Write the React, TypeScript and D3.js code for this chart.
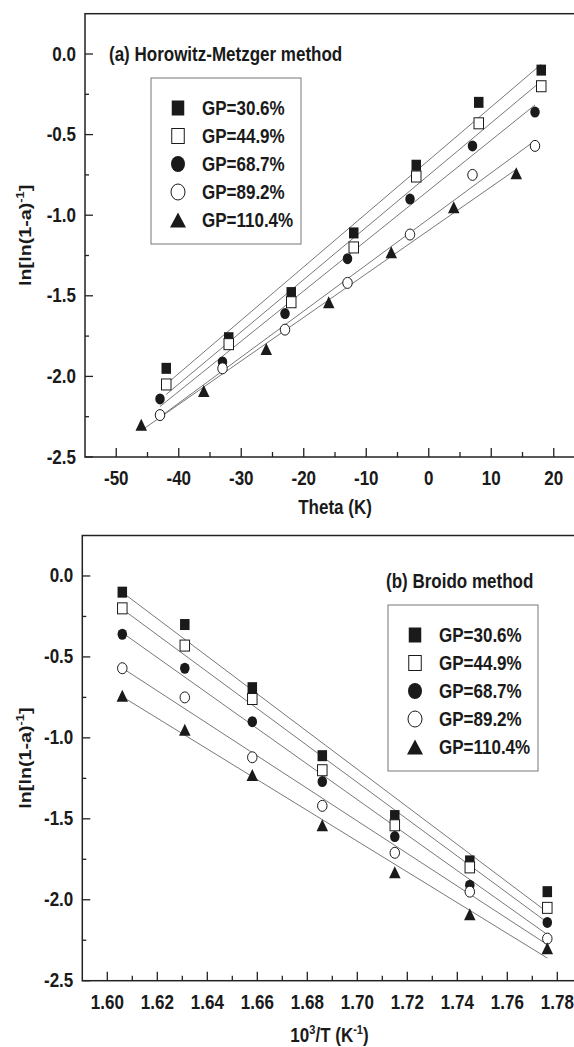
import React from "react";
import * as d3 from "d3";

// legend entries and symbol kinds, same order in both panels
const seriesNames = ["GP=30.6%", "GP=44.9%", "GP=68.7%", "GP=89.2%", "GP=110.4%"];
const seriesShapes = ["squareFilled", "squareOpen", "circleFilled", "circleOpen", "triangleFilled"];

// panel (a): Theta (K) of each point
const thetaGP306 = [-42, -32, -22, -12, -2, 8, 18];
const thetaGP449 = [-42, -32, -22, -12, -2, 8, 18];
const thetaGP687 = [-43, -33, -23, -13, -3, 7, 17];
const thetaGP892 = [-43, -33, -23, -13, -3, 7, 17];
const thetaGP1104 = [-46, -36, -26, -16, -6, 4, 14];

// ln[ln(1-a)^-1], same values in both panels
const lnGP306 = [-1.95, -1.76, -1.48, -1.11, -0.69, -0.3, -0.1];
const lnGP449 = [-2.05, -1.8, -1.54, -1.2, -0.76, -0.43, -0.2];
const lnGP687 = [-2.14, -1.91, -1.61, -1.27, -0.9, -0.57, -0.36];
const lnGP892 = [-2.24, -1.95, -1.71, -1.42, -1.12, -0.75, -0.57];
const lnGP1104 = [-2.3, -2.09, -1.83, -1.54, -1.23, -0.95, -0.74];

// panel (b): 10^3/T, in the same point order
const invT = [1.776, 1.745, 1.715, 1.686, 1.658, 1.631, 1.606];

const thetaTicks = [-50, -40, -30, -20, -10, 0, 10, 20];
const thetaMinor = [-45, -35, -25, -15, -5, 5, 15, 25];
const invTTicks = [1.6, 1.62, 1.64, 1.66, 1.68, 1.7, 1.72, 1.74, 1.76, 1.78];
const invTMinor = [1.61, 1.63, 1.65, 1.67, 1.69, 1.71, 1.73, 1.75, 1.77, 1.79];
const yTicks = [0, -0.5, -1, -1.5, -2, -2.5];
const yMinor = [-0.25, -0.75, -1.25, -1.75, -2.25];

const lnAll = [lnGP306, lnGP449, lnGP687, lnGP892, lnGP1104];
const thetaAll = [thetaGP306, thetaGP449, thetaGP687, thetaGP892, thetaGP1104];

const FONT = "'Liberation Sans', Arial, Helvetica, sans-serif";
const INK = "#1a1a1a";
const SY = 1.16; // the scan is a bit taller than wide

function Label({ x, y, anchor = "middle", size = 17, rotate = false, children }: any) {
  const t = rotate
    ? `translate(${x},${y}) rotate(-90) scale(${SY},1)`
    : `translate(${x},${y}) scale(1,${SY})`;
  return (
    <text transform={t} textAnchor={anchor} fontFamily={FONT} fontWeight="bold" fontSize={size} fill={INK}>
      {children}
    </text>
  );
}

function Marker({ shape, cx, cy, w, h }: any) {
  const open = shape.endsWith("Open");
  const fill = open ? "#fff" : INK;
  const sw = open ? 1 : 0;
  if (shape.startsWith("square"))
    return <rect x={cx - w / 2} y={cy - h / 2} width={w} height={h} fill={fill} stroke={INK} strokeWidth={sw} />;
  if (shape.startsWith("circle"))
    return <ellipse cx={cx} cy={cy} rx={w / 2} ry={h / 2} fill={fill} stroke={INK} strokeWidth={sw} />;
  return (
    <path d={`M${cx},${cy - h / 2}L${cx + w / 2},${cy + h / 2}L${cx - w / 2},${cy + h / 2}Z`} fill={fill} />
  );
}

function fit(xs: number[], ys: number[]) {
  const mx = d3.mean(xs)!, my = d3.mean(ys)!;
  const sxy = d3.sum(xs, (v, i) => (v - mx) * (ys[i] - my));
  const sxx = d3.sum(xs, (v) => (v - mx) ** 2);
  const b = sxy / sxx;
  return (v: number) => my + b * (v - mx);
}

const yLabel = (
  <>
    ln[ln(1-a)
    <tspan dy={-7} fontSize={11}>-1</tspan>
    <tspan dy={7}>]</tspan>
  </>
);

function Panel({ x, y, xs, xTicks, xMinor, xFmt, title, titleX, titleY, legX, legY, xTitle, xTitleX, xTitleY }: any) {
  const [x0] = x.range();
  const [y0, y1] = y.range();
  const xEnd = x.range()[1];
  return (
    <g>
      <rect x={x0} y={y1} width={xEnd - x0} height={y0 - y1} fill="none" stroke="#222" strokeWidth={1.5} />
      {xTicks.map((t: number) => (
        <g key={"xt" + t}>
          <line x1={x(t)} x2={x(t)} y1={y0} y2={y0 - 9} stroke="#222" strokeWidth={1.3} />
          <Label x={x(t)} y={y0 + 28}>{xFmt(t)}</Label>
        </g>
      ))}
      {xMinor.map((t: number) => (
        <line key={"xm" + t} x1={x(t)} x2={x(t)} y1={y0} y2={y0 - 5} stroke="#222" strokeWidth={1.3} />
      ))}
      {yTicks.map((t) => (
        <g key={"yt" + t}>
          <line x1={x0} x2={x0 + 8} y1={y(t)} y2={y(t)} stroke="#222" strokeWidth={1.3} />
          <Label x={x0 - 9} y={y(t) + 6.5} anchor="end">{t.toFixed(1)}</Label>
        </g>
      ))}
      {yMinor.map((t) => (
        <line key={"ym" + t} x1={x0} x2={x0 + 4} y1={y(t)} y2={y(t)} stroke="#222" strokeWidth={1.3} />
      ))}
      <Label x={31} y={(y0 + y1) / 2} rotate>{yLabel}</Label>
      <Label x={xTitleX} y={xTitleY}>{xTitle}</Label>
      <Label x={titleX} y={titleY} anchor="start">{title}</Label>

      {lnAll.map((ys, i) => {
        const f = fit(xs[i], ys);
        const [a, b] = d3.extent(xs[i]) as [number, number];
        return (
          <line key={"fit" + i} x1={x(a)} y1={y(f(a))} x2={x(b)} y2={y(f(b))} stroke="#555" strokeWidth={0.8} />
        );
      })}
      {lnAll.map((ys, i) =>
        ys.map((v, j) => (
          <Marker
            key={`m${i}-${j}`}
            shape={seriesShapes[i]}
            cx={x(xs[i][j])}
            cy={y(v)}
            w={seriesShapes[i].startsWith("triangle") ? 11.5 : 9.5}
            h={seriesShapes[i].startsWith("triangle") ? 12 : 11}
          />
        ))
      )}

      <rect x={legX} y={legY} width={150} height={166} fill="#fff" stroke="#777" strokeWidth={1} />
      {seriesNames.map((name, i) => {
        const ry = legY + 30 + i * 28;
        const sh = seriesShapes[i];
        const w = sh.startsWith("triangle") ? 16 : sh.startsWith("circle") ? 14 : 12.5;
        const h = sh.startsWith("triangle") ? 15 : sh.startsWith("circle") ? 16 : 15;
        return (
          <g key={name}>
            <Marker shape={sh} cx={legX + 27} cy={ry} w={w} h={h} />
            <Label x={legX + 51} y={ry + 6.5} anchor="start">{name}</Label>
          </g>
        );
      })}
    </g>
  );
}

export default function App() {
  const xa = d3.scaleLinear().domain([-55, 35]).range([85, 647.5]);
  const ya = d3.scaleLinear().domain([-2.5, 0.25]).range([457, 13.7]);
  const xb = d3.scaleLinear().domain([1.59, 1.81]).range([82.3, 632.3]);
  const yb = d3.scaleLinear().domain([-2.5, 0.25]).range([980.7, 535.5]);

  return (
    <svg
      width={574}
      height={1047}
      style={{ position: "absolute", left: 0, top: 0, background: "#fff", display: "block" }}
    >
      <Panel
        x={xa}
        y={ya}
        xs={thetaAll}
        xTicks={thetaTicks}
        xMinor={thetaMinor}
        xFmt={(v: number) => String(v)}
        title="(a) Horowitz-Metzger method"
        titleX={109}
        titleY={60.5}
        legX={151}
        legY={78}
        xTitle="Theta (K)"
        xTitleX={335}
        xTitleY={514}
      />
      <Panel
        x={xb}
        y={yb}
        xs={lnAll.map(() => invT)}
        xTicks={invTTicks}
        xMinor={invTMinor}
        xFmt={(v: number) => v.toFixed(2)}
        title="(b) Broido method"
        titleX={386}
        titleY={587.5}
        legX={388}
        legY={605}
        xTitle={
          <>
            10<tspan dy={-7} fontSize={11}>3</tspan>
            <tspan dy={7}>/T (K</tspan>
            <tspan dy={-7} fontSize={11}>-1</tspan>
            <tspan dy={7}>)</tspan>
          </>
        }
        xTitleX={329.5}
        xTitleY={1042}
      />
    </svg>
  );
}
